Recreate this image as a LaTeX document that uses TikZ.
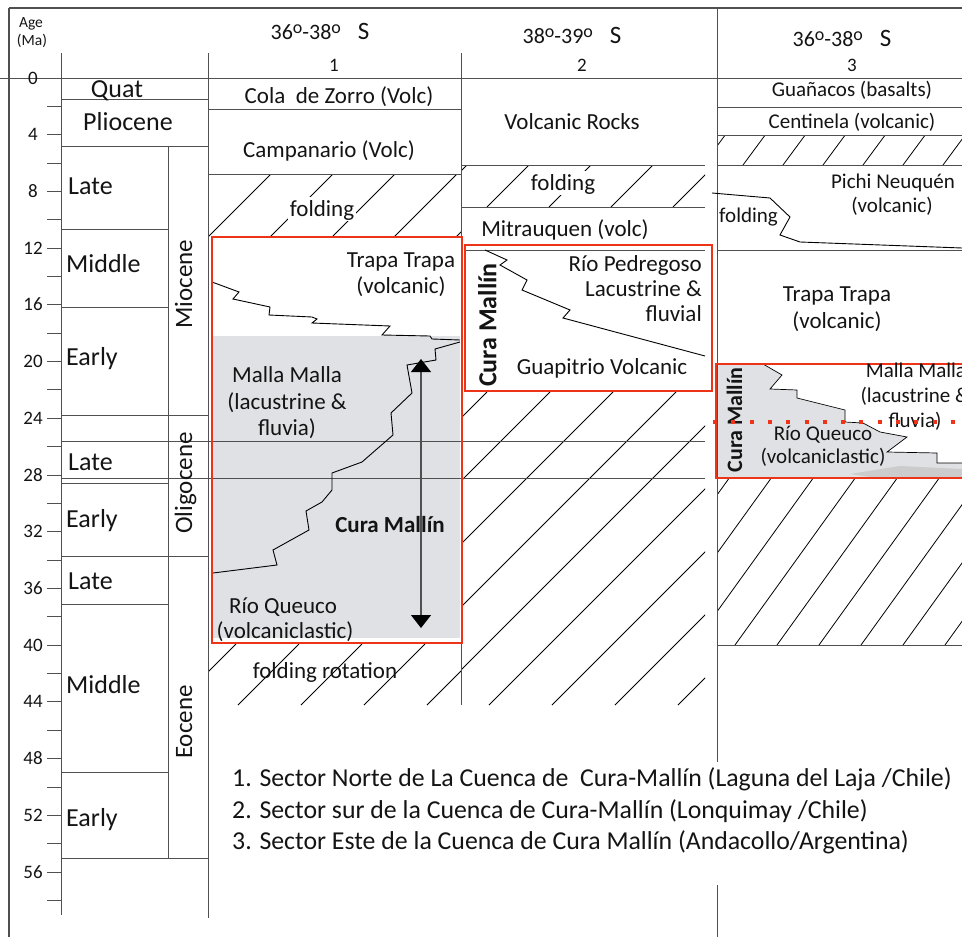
\documentclass[tikz,border=0pt]{standalone}
\usepackage{fontspec}
\setmainfont{Carlito}
\usetikzlibrary{arrows.meta}
\definecolor{boxred}{RGB}{238,52,24}
\definecolor{fillgray}{RGB}{223,225,228}
\definecolor{linegray}{RGB}{80,80,80}
\definecolor{txt}{RGB}{20,20,20}
\newcommand{\degO}{\raisebox{5.5pt}{\fontsize{18}{18}\selectfont o}}
\newcommand{\hatchrect}[7]{%
  \begin{scope}
    \clip (#1,#2) rectangle (#3,#4);
    \foreach \k in {-14,...,14} {
      \draw[hatch] ({#5+\k*#6},#4) -- ({#5+\k*#6+#7*(#4-#2)},#2);
    }
  \end{scope}}
\begin{document}
\begin{tikzpicture}[x=1pt,y=-1pt,
  lbl/.style={inner sep=0pt, text height=14.7pt, text depth=0pt, text=txt, font=\fontsize{23}{27}\selectfont},
  lblS/.style={lbl, text height=13.4pt, font=\fontsize{21}{25}\selectfont},
  stage/.style={lbl, text height=16.6pt, font=\fontsize{26}{30}\selectfont},
  epoch/.style={lbl, text height=16pt, font=\fontsize{25}{30}\selectfont, rotate=90},
  agel/.style={lbl, text height=12pt, font=\fontsize{19}{22}\selectfont},
  head/.style={lbl, text height=14pt, font=\fontsize{22}{26}\selectfont},
  colnum/.style={lbl, text height=12pt, font=\fontsize{19}{22}\selectfont},
  bld/.style={lbl, font=\fontsize{23}{27}\selectfont\bfseries},
  leg/.style={lbl, text height=16.5pt, font=\fontsize{25.8}{30}\selectfont, anchor=west},
  small/.style={lbl, text height=10pt, font=\fontsize{15.5}{17}\selectfont},
  rule/.style={draw=linegray, line width=1pt},
  frame/.style={draw=linegray, line width=1.1pt},
  hatch/.style={draw=black, line width=0.8pt},
  rbox/.style={draw=boxred, line width=2.2pt},
  jag/.style={draw=black, line width=0.9pt},
  wb/.style={fill=white, inner xsep=2pt, inner ysep=5pt}
]
\useasboundingbox (0,0) rectangle (962,937);
\clip (0,0) rectangle (962,937);

% ---------- gray fills ----------
\fill[fillgray] (213,336) rectangle (460,638);
\fill[fillgray] (717,364) -- (763,364) -- (782,375) -- (770,389) -- (797,390) -- (797,398)
  -- (845,410) -- (845,422) -- (863,423) -- (880,432) -- (907,437) -- (887,452)
  -- (937,453) -- (937,463) -- (962,463) -- (962,478) -- (717,478) -- cycle;
\fill[gray!40] (850,474) -- (900,466) -- (962,469) -- (962,477) -- (870,477) -- cycle;

% ---------- hatching ----------
\hatchrect{208}{174}{461}{237}{208}{62}{1}
\hatchrect{208}{644}{461}{705}{112}{63}{1}
\hatchrect{461}{165}{705}{207}{487}{62}{1}
\hatchrect{461}{392}{705}{705}{237}{63}{1}
\hatchrect{717}{135}{962}{165}{743}{40}{0.74}
\hatchrect{717}{479}{962}{645}{735}{42}{0.72}

% ---------- frame and column rules ----------
\draw[frame] (9,8) -- (962,8);
\draw[frame] (9,8) -- (9,937);
\draw[rule] (0,78) -- (962,78);
\draw[rule] (61,53) -- (61,915);
\draw[rule] (208,53) -- (208,918);
\draw[rule] (461,53) -- (461,705);
\draw[rule] (717,8) -- (717,762);
\draw[rule] (717,885) -- (717,937);
\draw[rule] (168,146) -- (168,858);

% age ticks
\foreach \a in {2,4,...,58} { \draw[rule] (47,{78+14.18*\a}) -- (61,{78+14.18*\a}); }

% timescale rows
\draw[rule] (61,99) -- (208,99);
\draw[rule] (61,146) -- (208,146);
\draw[rule] (61,229) -- (168,229);
\draw[rule] (61,307) -- (168,307);
\draw[rule] (61,415) -- (208,415);
\draw[rule] (61,441) -- (705,441);
\draw[rule] (61,478) -- (705,478);
\draw[rule] (61,483) -- (168,483);
\draw[rule] (61,556) -- (208,556);
\draw[rule] (61,604) -- (168,604);
\draw[rule] (61,772) -- (168,772);
\draw[rule] (61,858) -- (208,858);

% column 1 rows
\draw[rule] (208,109) -- (461,109);
\draw[rule] (208,174) -- (461,174);
% column 2 rows
\draw[rule] (461,165) -- (705,165);
\draw[rule] (461,207) -- (705,207);
\draw[rule] (465,250) -- (705,250);
% column 3 rows
\draw[rule] (717,107) -- (962,107);
\draw[rule] (717,135) -- (962,135);
\draw[rule] (717,165) -- (962,165);
\draw[rule] (717,250) -- (962,250);
\draw[rule] (717,645) -- (962,645);

% ---------- jagged contacts ----------
\draw[jag] (212,282) -- (239,292) -- (233,299) -- (270,307) -- (269,315) -- (312,317)
  -- (317,319) -- (312,323) -- (390,326) -- (382,335) -- (430,336) -- (432,339) -- (460,340);
\draw[jag] (460,342) -- (435,349) -- (436,360) -- (407,365) -- (412,393) -- (391,413)
  -- (393,435) -- (362,462) -- (332,473) -- (332,490) -- (322,502) -- (306,511)
  -- (309,530) -- (273,550) -- (277,565) -- (213,573);
\draw[jag] (485,250) -- (507,260) -- (500,265) -- (527,280) -- (522,290) -- (570,310)
  -- (563,318) -- (705,356);
\draw[jag] (712,193) -- (770,198) -- (790,217) -- (780,235) -- (800,242) -- (962,248);
\draw[jag, line width=0.7pt] (763,364) -- (782,375) -- (770,389) -- (797,390) -- (797,398)
  -- (845,410) -- (845,422) -- (863,423) -- (880,432) -- (907,437) -- (887,452)
  -- (937,453) -- (937,463) -- (962,463);

% ---------- red boxes ----------
\draw[rbox] (212,237) rectangle (462,643);
\draw[rbox] (465,245) rectangle (712,391);
\draw[rbox] (716,364) rectangle (975,478);

% ---------- arrow ----------
\coordinate (arrTop) at (421,359);
\coordinate (arrBot) at (421,628);
\draw[draw=linegray, line width=1.2pt,
  {Triangle[width=20pt,length=13pt,color=black,fill=black]}-{Triangle[width=20pt,length=13pt,color=black,fill=black]}]
  (arrTop) -- (arrBot);

% ---------- header ----------
\node[small] (ageA) at (31,22) {Age};
\node[small] (ageB) at (32,40) {(Ma)};
\node[head] (h1) at (320,32) {36\degO-38\degO\hspace{17pt}{\fontsize{25}{28}\selectfont S}};
\node[head] (h2) at (572,36) {38\degO-39\degO\hspace{17pt}{\fontsize{25}{28}\selectfont S}};
\node[head] (h3) at (842,39) {36\degO-38\degO\hspace{17pt}{\fontsize{25}{28}\selectfont S}};
\node[colnum] (c1) at (334,65) {1};
\node[colnum] (c2) at (582,65) {2};
\node[colnum] (c3) at (852,65) {3};

% ages
\foreach \a in {0,4,...,56} { \node[agel] (age\a) at (33,{78+14.18*\a}) {\a}; }

% stages
\node[stage] (sQuat) at (117,89) {Quat};
\node[stage] (sPlio) at (128,122) {Pliocene};
\node[stage, anchor=west] (sML) at (68,186) {Late};
\node[stage, anchor=west] (sMM) at (66,264) {Middle};
\node[stage, anchor=west] (sME) at (66,357) {Early};
\node[stage, anchor=west] (sOL) at (68,462) {Late};
\node[stage, anchor=west] (sOE) at (66,519) {Early};
\node[stage, anchor=west] (sEL) at (68,581) {Late};
\node[stage, anchor=west] (sEM) at (66,685) {Middle};
\node[stage, anchor=west] (sEE) at (66,818) {Early};
\node[epoch] (eMio) at (184,284) {Miocene};
\node[epoch] (eOli) at (184,483) {Oligocene};
\node[epoch] (eEoc) at (184,722) {Eocene};

% column 1
\node[lbl] (cola) at (339,96) {Cola\ \ de Zorro (Volc)};
\node[lbl] (camp) at (329,150) {Campanario (Volc)};
\node[lbl, wb] (fold1) at (322,209) {folding};
\node[lbl] (tt1a) at (401,260) {Trapa Trapa};
\node[lbl] (tt1b) at (401,286) {(volcanic)};
\node[lbl] (mm1a) at (287,375) {Malla Malla};
\node[lbl] (mm1b) at (287,402) {(lacustrine \&};
\node[lbl] (mm1c) at (287,428) {fluvia)};
\node[bld] (cm1) at (390,525) {Cura Mallín};
\node[lbl] (rq1a) at (283,606) {Río Queuco};
\node[lbl] (rq1b) at (285,631) {(volcaniclastic)};
\node[lbl] (foldrot) at (325,671) {folding rotation};

% column 2
\node[lbl] (vr) at (572,122) {Volcanic Rocks};
\node[lbl, wb] (fold2) at (563,183) {folding};
\node[lbl] (mit) at (565,229) {Mitrauquen (volc)};
\node[lbl, anchor=east] (rp1) at (702,264) {Río Pedregoso};
\node[lbl, anchor=east] (rp2) at (702,289) {Lacustrine \&};
\node[lbl, anchor=east] (rp3) at (702,314) {fluvial};
\node[lbl] (guap) at (602,367) {Guapitrio Volcanic};
\node[bld, text height=16.6pt, font=\fontsize{26}{30}\selectfont\bfseries, rotate=90] (cm2) at (488,325) {Cura Mallín};

% column 3
\node[lblS] (guan) at (852,90) {Guañacos (basalts)};
\node[lblS] (cent) at (852,122) {Centinela (volcanic)};
\node[lblS] (pn1) at (893,182) {Pichi Neuquén};
\node[lblS] (pn2) at (892,206) {(volcanic)};
\node[lblS, anchor=west] (fold3) at (719,216) {folding};
\node[lbl] (tt3a) at (837,294) {Trapa Trapa};
\node[lbl] (tt3b) at (837,321) {(volcanic)};
\node[lblS] (mm3a) at (916,371) {Malla Malla};
\node[lblS] (mm3b) at (915,396) {(lacustrine \&};
\node[lblS] (mm3c) at (915,421) {fluvia)};
\node[lblS] (rq3a) at (823,434) {Río Queuco};
\node[lblS] (rq3b) at (823,457) {(volcaniclastic)};
\node[bld, text height=14pt, font=\fontsize{22}{26}\selectfont\bfseries, rotate=90] (cm3) at (735,420) {Cura Mallín};

% red dotted line
\coordinate (dotL) at (713,422);
\coordinate (dotR) at (962,422);
\draw[draw=boxred, line width=4pt, dash pattern=on 4pt off 14.3pt] (dotL) -- (dotR);

% legend
\node[leg] (leg1) at (232,778) {1. Sector Norte de La Cuenca de\ \ Cura-Mallín (Laguna del Laja /Chile)};
\node[leg] (leg2) at (232,810) {2. Sector sur de la Cuenca de Cura-Mallín (Lonquimay /Chile)};
\node[leg] (leg3) at (232,841) {3. Sector Este de la Cuenca de Cura Mallín (Andacollo/Argentina)};
\end{tikzpicture}
\end{document}
